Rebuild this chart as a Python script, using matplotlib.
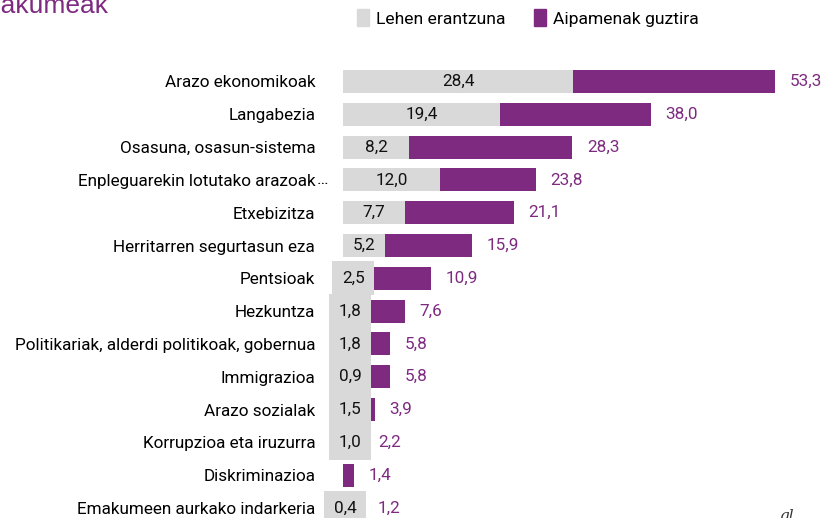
import matplotlib
matplotlib.use("Agg")
import matplotlib.pyplot as plt
from matplotlib.patches import Patch

plt.rcParams["font.family"] = ["Roboto", "DejaVu Sans"]

categories = [
    "Arazo ekonomikoak",
    "Langabezia",
    "Osasuna, osasun-sistema",
    "Enpleguarekin lotutako arazoak",
    "Etxebizitza",
    "Herritarren segurtasun eza",
    "Pentsioak",
    "Hezkuntza",
    "Politikariak, alderdi politikoak, gobernua",
    "Immigrazioa",
    "Arazo sozialak",
    "Korrupzioa eta iruzurra",
    "Diskriminazioa",
    "Emakumeen aurkako indarkeria",
]
lehen = [28.4, 19.4, 8.2, 12.0, 7.7, 5.2, 2.5, 1.8, 1.8, 0.9, 1.5, 1.0, None, 0.4]
guztira = [53.3, 38.0, 28.3, 23.8, 21.1, 15.9, 10.9, 7.6, 5.8, 5.8, 3.9, 2.2, 1.4, 1.2]

gray = "#d9d9d9"
purple = "#7d2a80"
fs = 12.3

fig = plt.figure(figsize=(8.23, 5.18), dpi=100)
# axes placed in pixel terms: x 343..823, rows centred 81..508
ax = fig.add_axes([343 / 823, (518 - 524.5) / 518, 480 / 823, (524.5 - 65) / 518])

y = list(range(len(categories)))
ax.barh(y, guztira, height=0.7, color=purple)
ax.barh(y, [v if v is not None else 0 for v in lehen], height=0.7, color=gray)

for i, (a, b) in enumerate(zip(lehen, guztira)):
    end = b
    if a is not None:
        small = a < 3
        box = dict(boxstyle="square,pad=0.56", fc=gray, ec="none") if small else None
        ax.text(max(a / 2, 0.9) if a >= 0.9 else 0.3, i, f"{a:.1f}".replace(".", ","),
                ha="center", va="center", fontsize=fs, color="#111111", bbox=box)
        if small:
            end = max(b, 2.5)  # keep clear of the grey label box
    ax.annotate(f"{b:.1f}".replace(".", ","), (end, i), xytext=(10.5, 0),
                textcoords="offset points", ha="left", va="center",
                fontsize=fs, color=purple, annotation_clip=False)

ax.set_yticks(y)
ax.set_yticklabels(categories, fontsize=fs)
ax.set_ylim(len(categories) - 0.5, -0.5)
ax.set_xlim(0, 480 / 8.105)
ax.tick_params(axis="y", length=0, pad=20)
ax.set_xticks([])
for s in ax.spines.values():
    s.set_visible(False)
# truncated label gets its ellipsis just past the label column
ax.annotate("…", (0, 3), xytext=(-19, 0), textcoords="offset points",
            ha="left", va="center", fontsize=fs, annotation_clip=False)

handles = [Patch(color=gray, label="Lehen erantzuna"),
           Patch(color=purple, label="Aipamenak guztira")]
fig.legend(handles=handles, loc="center left", bbox_to_anchor=(350 / 823, 1 - 18 / 518),
           ncol=2, frameon=False, fontsize=fs + 0.3, handlelength=0.7, handleheight=1.1,
           handletextpad=0.4, columnspacing=1.6, borderaxespad=0)

fig.text(109 / 823, 1 - 13 / 518, "emakumeak", ha="right", va="baseline",
         fontsize=19, color=purple, family=["Liberation Sans", "DejaVu Sans"])
fig.text(779 / 823, 1 - 520 / 518, "gl", ha="left", va="baseline",
         fontsize=11, style="italic", color="#333333", family=["DejaVu Serif"])

fig.savefig("out.png", dpi=100)
